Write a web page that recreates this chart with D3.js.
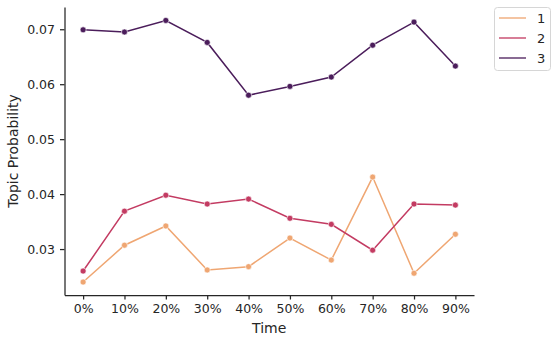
<!DOCTYPE html>
<html>
<head>
<meta charset="utf-8">
<script src="https://cdn.jsdelivr.net/npm/d3@7"></script>
<style>
  body { margin: 0; background: #fff; }
  text { font-family: "DejaVu Sans", sans-serif; fill: #262626; }
</style>
</head>
<body>
<div id="chart"></div>
<script>
// Data
const time_labels = ['0%', '10%', '20%', '30%', '40%', '50%', '60%', '70%', '80%', '90%'];
const topic_names = ['1', '2', '3'];
const topic_1 = [0.0240, 0.0307, 0.0342, 0.0262, 0.0268, 0.0320, 0.0280, 0.0431, 0.0256, 0.0327];
const topic_2 = [0.0260, 0.0369, 0.0398, 0.0382, 0.0391, 0.0356, 0.0345, 0.0298, 0.0382, 0.0380];
const topic_3 = [0.0699, 0.0695, 0.0716, 0.0676, 0.0580, 0.0596, 0.0613, 0.0671, 0.0713, 0.0633];
const y_ticks = [0.03, 0.04, 0.05, 0.06, 0.07];

const C = {
  width: 557,
  height: 343,
  margin: {left: 64.5, right: 83, top: 7, bottom: 48},
  colors: ['#efa672', '#c33b62', '#4b1d5b'],
  point_radius: 3,
  line_width: 1.5,
  tick_size: 4.5,
};

const series = [topic_1, topic_2, topic_3].map((values, i) => ({
  name: topic_names[i],
  color: C.colors[i],
  values: values.map((v, j) => ({t: j, v})),
}));

const svg = d3.select('#chart').append('svg')
  .attr('width', C.width)
  .attr('height', C.height);

const x0 = C.margin.left, x1 = C.width - C.margin.right;
const y0 = C.height - C.margin.bottom, y1 = C.margin.top;

// matplotlib-like 5% margins on the categorical x axis
const X = d3.scaleLinear().domain([-0.45, 9.45]).range([x0, x1]);
const Y = d3.scaleLinear().domain([0.02164, 0.07405]).range([y0, y1]);

// Axes
const x_axis = svg.append('g')
  .attr('transform', `translate(0,${y0})`)
  .call(d3.axisBottom(X)
    .tickValues(d3.range(time_labels.length))
    .tickFormat(i => time_labels[i])
    .tickSizeInner(C.tick_size)
    .tickSizeOuter(0)
    .tickPadding(5));

const y_axis = svg.append('g')
  .attr('transform', `translate(${x0},0)`)
  .call(d3.axisLeft(Y)
    .tickValues(y_ticks)
    .tickFormat(d3.format('.2f'))
    .tickSizeInner(C.tick_size)
    .tickSizeOuter(0)
    .tickPadding(5));

[x_axis, y_axis].forEach(ax => {
  ax.select('.domain').attr('stroke', '#262626').attr('stroke-width', 1.25);
  ax.selectAll('.tick line').attr('stroke', '#262626').attr('stroke-width', 1.25);
  ax.selectAll('.tick text').style('font-size', '12.5px').attr('fill', '#262626');
});

// Axis titles
svg.append('text')
  .attr('x', (x0 + x1) / 2)
  .attr('y', 333)
  .attr('text-anchor', 'middle')
  .style('font-size', '14px')
  .text('Time');

svg.append('text')
  .attr('transform', `translate(18,${(y0 + y1) / 2}) rotate(-90)`)
  .attr('text-anchor', 'middle')
  .style('font-size', '14px')
  .text('Topic Probability');

// Lines and points
const line = d3.line().x(d => X(d.t)).y(d => Y(d.v));

const groups = svg.append('g').selectAll('g')
  .data(series)
  .join('g');

groups.append('path')
  .attr('d', d => line(d.values))
  .attr('fill', 'none')
  .attr('stroke', d => d.color)
  .attr('stroke-width', C.line_width);

groups.selectAll('circle')
  .data(d => d.values.map(p => ({...p, color: d.color})))
  .join('circle')
  .attr('cx', d => X(d.t))
  .attr('cy', d => Y(d.v))
  .attr('r', C.point_radius)
  .attr('fill', d => d.color)
  .attr('stroke', '#fff')
  .attr('stroke-width', 0.6);

// Legend
const legend = svg.append('g').attr('transform', 'translate(494,7)');

legend.append('rect')
  .attr('x', 0.5).attr('y', 0.5)
  .attr('width', 56).attr('height', 63)
  .attr('rx', 3)
  .attr('fill', '#fff')
  .attr('stroke', '#d6d6d6')
  .attr('stroke-width', 1);

const items = legend.selectAll('g.item')
  .data(series)
  .join('g')
  .attr('class', 'item')
  .attr('transform', (d, i) => `translate(0,${11 + i * 20})`);

items.append('line')
  .attr('x1', 5).attr('x2', 32)
  .attr('stroke', d => d.color)
  .attr('stroke-opacity', 0.75)
  .attr('stroke-width', 1.75);

items.append('text')
  .attr('x', 43)
  .attr('dy', '0.35em')
  .style('font-size', '13px')
  .text(d => d.name);
</script>
</body>
</html>
